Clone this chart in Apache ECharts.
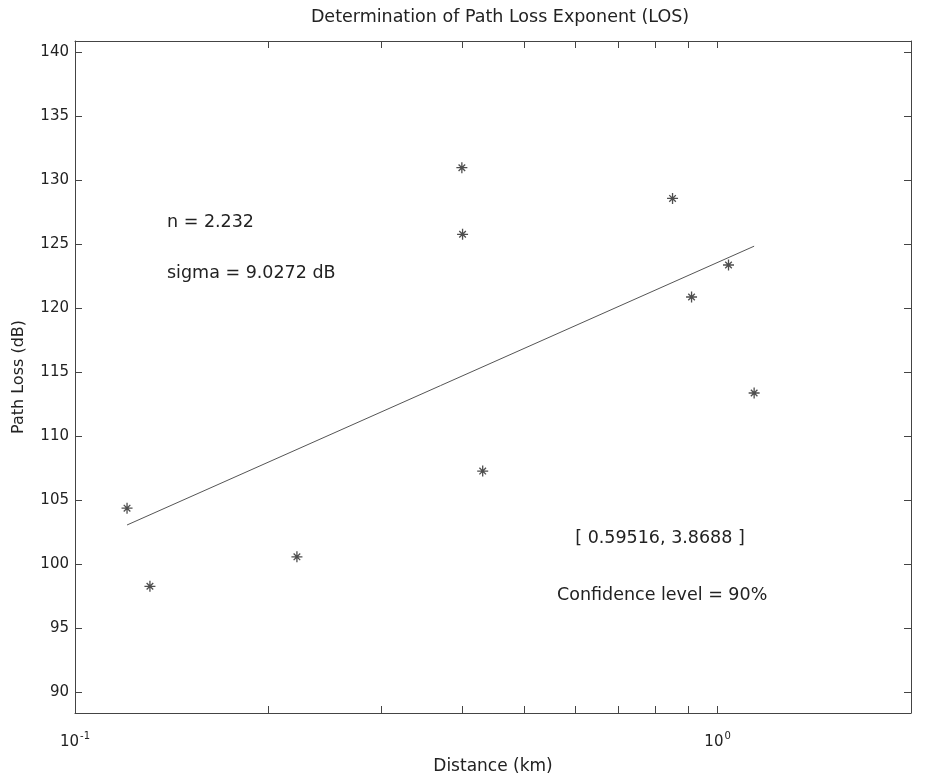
<!DOCTYPE html>
<html>
<head>
<meta charset="utf-8">
<script src="https://cdn.jsdelivr.net/npm/echarts@6/dist/echarts.min.js"></script>
<style>
  html, body { margin: 0; padding: 0; background: #fff; }
  #chart { width: 925px; height: 780px; }
</style>
</head>
<body>
<div id="chart"></div>
<script>
// Measured LOS path loss against distance
const distanceKm = [0.1205, 0.1308, 0.2215, 0.400, 0.401, 0.431, 0.851, 0.911, 1.04, 1.14];
const pathLossDb = [104.4, 98.3, 100.6, 131.0, 125.8, 107.3, 128.6, 120.9, 123.4, 113.4];

// Log-distance fit: PL(d) = PL(1 km) + 10 n log10(d)
const exponentN = 2.232;
const lossAt1km = 123.6;
const sigmaDb = 9.0272;
const confInterval = [0.59516, 3.8688];
const confLevel = 90;

// Axis ticks
const yTickValues = [90, 95, 100, 105, 110, 115, 120, 125, 130, 135, 140];
const xTickValues = [0.1, 0.2, 0.3, 0.4, 0.5, 0.6, 0.7, 0.8, 0.9, 1, 2];
const xLabelValues = [0.1, 1];
const xLabelText = { '0.1': '-1', '1': '0' };

const FONT = 'DejaVu Sans';
const INK = '#222';
const AXIS = '#444';

const points = distanceKm.map((d, i) => [d, pathLossDb[i]]);
const dMin = Math.min(...distanceKm);
const dMax = Math.max(...distanceKm);
const fitLine = [dMin, dMax].map(d => [d, lossAt1km + 10 * exponentN * Math.log10(d)]);

const asterisk = 'path://M5,0L5,10M0,5L10,5M2,2L8,8M8,2L2,8';

function xAxisBase(pos) {
  return {
    type: 'log',
    logBase: 10,
    min: 0.1,
    max: 2,
    position: pos,
    axisLine: { show: true, lineStyle: { color: AXIS, width: 1 } },
    axisTick: { show: true, inside: true, length: 7, customValues: xTickValues,
                lineStyle: { color: AXIS, width: 1 } },
    minorTick: { show: false },
    splitLine: { show: false },
    axisLabel: { show: false }
  };
}
function yAxisBase(pos) {
  return {
    type: 'value',
    min: 88.4,
    max: 140.9,
    position: pos,
    axisLine: { show: true, lineStyle: { color: AXIS, width: 1 } },
    axisTick: { show: true, inside: true, length: 7, customValues: yTickValues,
                lineStyle: { color: AXIS, width: 1 } },
    splitLine: { show: false },
    axisLabel: { show: false }
  };
}

const bottomX = xAxisBase('bottom');
bottomX.axisLabel = {
  show: true,
  customValues: xLabelValues,
  margin: 18,
  formatter: v => '{b|10}{s|' + xLabelText[String(+v.toFixed(4))] + '}',
  rich: {
    b: { fontFamily: FONT, fontSize: 15, color: INK },
    s: { fontFamily: FONT, fontSize: 10, color: INK, padding: [0, 0, 12, 1] }
  }
};
bottomX.name = 'Distance (km)';
bottomX.nameLocation = 'middle';
bottomX.nameGap = 45;
bottomX.nameTextStyle = { fontFamily: FONT, fontSize: 17, color: INK };

const topX = xAxisBase('top');

const leftY = yAxisBase('left');
leftY.axisLabel = {
  show: true,
  customValues: yTickValues,
  margin: 6,
  fontFamily: FONT, fontSize: 15, color: INK
};
leftY.name = 'Path Loss (dB)';
leftY.nameLocation = 'middle';
leftY.nameGap = 48;
leftY.nameTextStyle = { fontFamily: FONT, fontSize: 16, color: INK };

const rightY = yAxisBase('right');

function note(text, x, y, align, size) {
  return {
    type: 'text',
    x: x, y: y,
    style: { text: text, fontFamily: FONT, fontSize: size || 17.5, fill: INK,
             align: align || 'left', verticalAlign: 'middle' }
  };
}

const chart = echarts.init(document.getElementById('chart'), null, { renderer: 'canvas' });
chart.setOption({
  backgroundColor: '#fff',
  animation: false,
  grid: { left: 75, right: 14, top: 41, bottom: 67, containLabel: false },
  xAxis: [bottomX, topX],
  yAxis: [leftY, rightY],
  graphic: [
    note('Determination of Path Loss Exponent (LOS)', 500, 17, 'center', 17.5),
    note('n = ' + exponentN, 167, 222),
    note('sigma = ' + sigmaDb + ' dB', 167, 273),
    note('[ ' + confInterval[0] + ', ' + confInterval[1] + ' ]', 660, 538, 'center'),
    note('Confidence level = ' + confLevel + '%', 557, 595)
  ],
  series: [
    {
      type: 'line',
      xAxisIndex: 0, yAxisIndex: 0,
      data: fitLine,
      showSymbol: false,
      lineStyle: { color: '#555', width: 1 },
      z: 2
    },
    {
      type: 'scatter',
      xAxisIndex: 0, yAxisIndex: 0,
      data: points,
      symbol: asterisk,
      symbolSize: 11,
      itemStyle: { color: 'rgba(0,0,0,0)', borderColor: '#222', borderWidth: 1.3 },
      z: 3
    }
  ]
});
</script>
</body>
</html>
